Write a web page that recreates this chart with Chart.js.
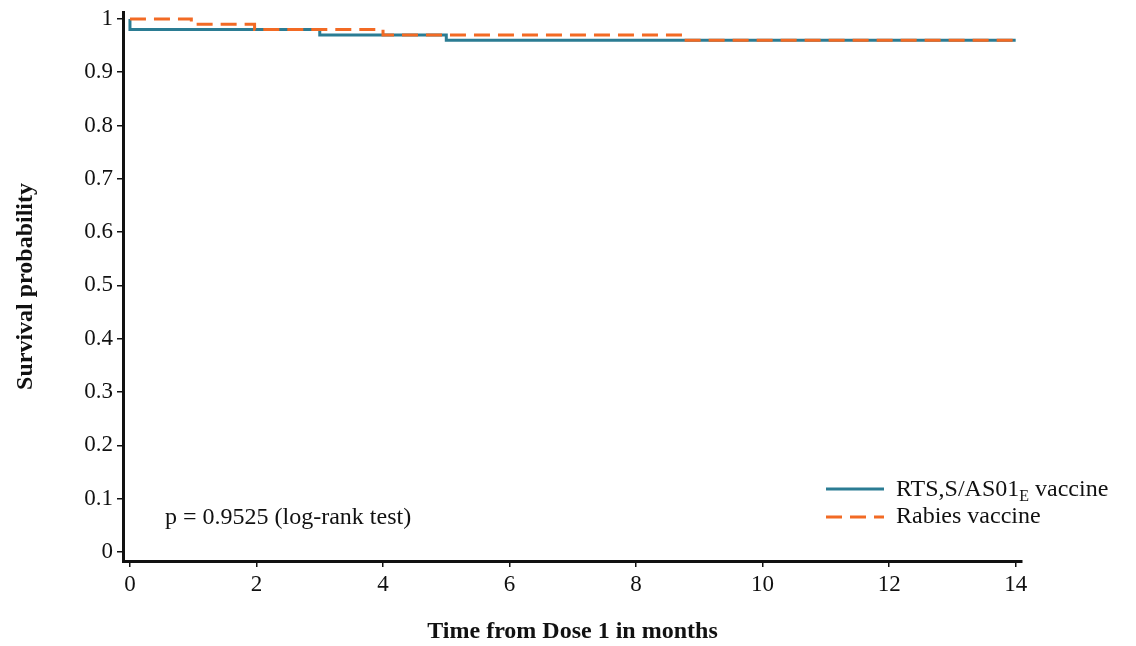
<!DOCTYPE html>
<html>
<head>
<meta charset="utf-8">
<title>Survival probability</title>
<script src="https://cdn.jsdelivr.net/npm/chart.js@4.4.1/dist/chart.umd.min.js"></script>
<style>
    html, body { margin: 0; padding: 0; background: #fff; }
    #wrap { width: 1136px; height: 646px; position: relative; }
</style>
</head>
<body>
<div id="wrap"><canvas id="km-chart"></canvas></div>
<script>
// Kaplan-Meier curves, values
const rtsTimes = [0, 0, 3, 5, 14];
const rtsSurvival = [1, 0.98, 0.97, 0.96, 0.96];
const rabiesTimes = [0, 0.97, 1.97, 4, 8.75, 14];
const rabiesSurvival = [1, 0.99, 0.98, 0.97, 0.96, 0.96];

const xTicks = [0, 2, 4, 6, 8, 10, 12, 14];
const yTicks = [0, 0.1, 0.2, 0.3, 0.4, 0.5, 0.6, 0.7, 0.8, 0.9, 1];

const seriesNames = ['RTS,S/AS01', 'Rabies vaccine'];
const pValueText = 'p = 0.9525 (log-rank test)';

const TEAL = '#2b7c93';
const ORANGE = '#f26a24';
const SERIF = '"Liberation Serif", "Times New Roman", serif';

const toPoints = (xs, ys) => xs.map((x, i) => ({ x: x, y: ys[i] }));

// legend + p-value drawn inside the plot area
const annotations = {
    id: 'annotations',
    afterDraw(chart) {
        const ctx = chart.ctx;
        ctx.save();
        ctx.fillStyle = '#111';
        ctx.textBaseline = 'alphabetic';
        ctx.font = '24px ' + SERIF;
        ctx.fillText(pValueText, 165, 524);

        // legend row 1
        ctx.strokeStyle = TEAL;
        ctx.lineWidth = 3;
        ctx.setLineDash([]);
        ctx.beginPath();
        ctx.moveTo(826, 489);
        ctx.lineTo(884, 489);
        ctx.stroke();
        ctx.fillText(seriesNames[0], 896, 496);
        let w = ctx.measureText(seriesNames[0]).width;
        ctx.font = '16px ' + SERIF;
        ctx.fillText('E', 896 + w, 501);
        let w2 = ctx.measureText('E').width;
        ctx.font = '24px ' + SERIF;
        ctx.fillText(' vaccine', 896 + w + w2, 496);

        // legend row 2
        ctx.strokeStyle = ORANGE;
        ctx.setLineDash([16, 8]);
        ctx.beginPath();
        ctx.moveTo(826, 517);
        ctx.lineTo(884, 517);
        ctx.stroke();
        ctx.fillText(seriesNames[1], 896, 523);
        ctx.restore();
    }
};

new Chart(document.getElementById('km-chart'), {
    type: 'scatter',
    data: {
        datasets: [
            {
                label: seriesNames[0],
                data: toPoints(rtsTimes, rtsSurvival),
                showLine: true,
                stepped: true,
                borderColor: TEAL,
                borderWidth: 3,
                pointRadius: 0,
                fill: false,
                order: 1
            },
            {
                // dashed curve sits on top of the solid one
                label: seriesNames[1],
                data: toPoints(rabiesTimes, rabiesSurvival),
                showLine: true,
                stepped: true,
                borderColor: ORANGE,
                borderWidth: 3,
                borderDash: [16, 8],
                pointRadius: 0,
                fill: false,
                order: 0
            }
        ]
    },
    options: {
        responsive: true,
        maintainAspectRatio: false,
        animation: false,
        layout: { padding: { top: 12, right: 114, bottom: 0, left: 0 } },
        plugins: {
            legend: { display: false },
            tooltip: { enabled: false }
        },
        scales: {
            x: {
                type: 'linear',
                min: -0.11,
                max: 14.1,
                afterBuildTicks: axis => { axis.ticks = xTicks.map(v => ({ value: v })); },
                afterFit: axis => { axis.height = 85; },
                ticks: {
                    color: '#111',
                    font: { family: SERIF, size: 23 },
                    padding: 4,
                    maxRotation: 0
                },
                grid: { drawOnChartArea: false, drawTicks: true, tickLength: 6, color: '#111', lineWidth: 1.5 },
                border: { display: true, color: '#111', width: 3 },
                title: {
                    display: true,
                    text: 'Time from Dose 1 in months',
                    color: '#111',
                    font: { family: SERIF, size: 24, weight: 'bold' },
                    padding: { top: 0, bottom: 0 }
                }
            },
            y: {
                type: 'linear',
                min: -0.017,
                max: 1.013,
                afterBuildTicks: axis => { axis.ticks = yTicks.map(v => ({ value: v })); },
                afterFit: axis => {
                    axis.width = 123;
                    axis.paddingTop = 0;
                    axis.paddingBottom = 0;
                },
                ticks: {
                    color: '#111',
                    font: { family: SERIF, size: 23 },
                    padding: 4,
                    callback: v => String(v)
                },
                grid: { drawOnChartArea: false, drawTicks: true, tickLength: 6, color: '#111', lineWidth: 1.5 },
                border: { display: true, color: '#111', width: 3 },
                title: {
                    display: true,
                    text: 'Survival probability',
                    color: '#111',
                    font: { family: SERIF, size: 24, weight: 'bold' },
                    padding: { top: 11, bottom: 0 }
                }
            }
        }
    },
    plugins: [annotations]
});
</script>
</body>
</html>
